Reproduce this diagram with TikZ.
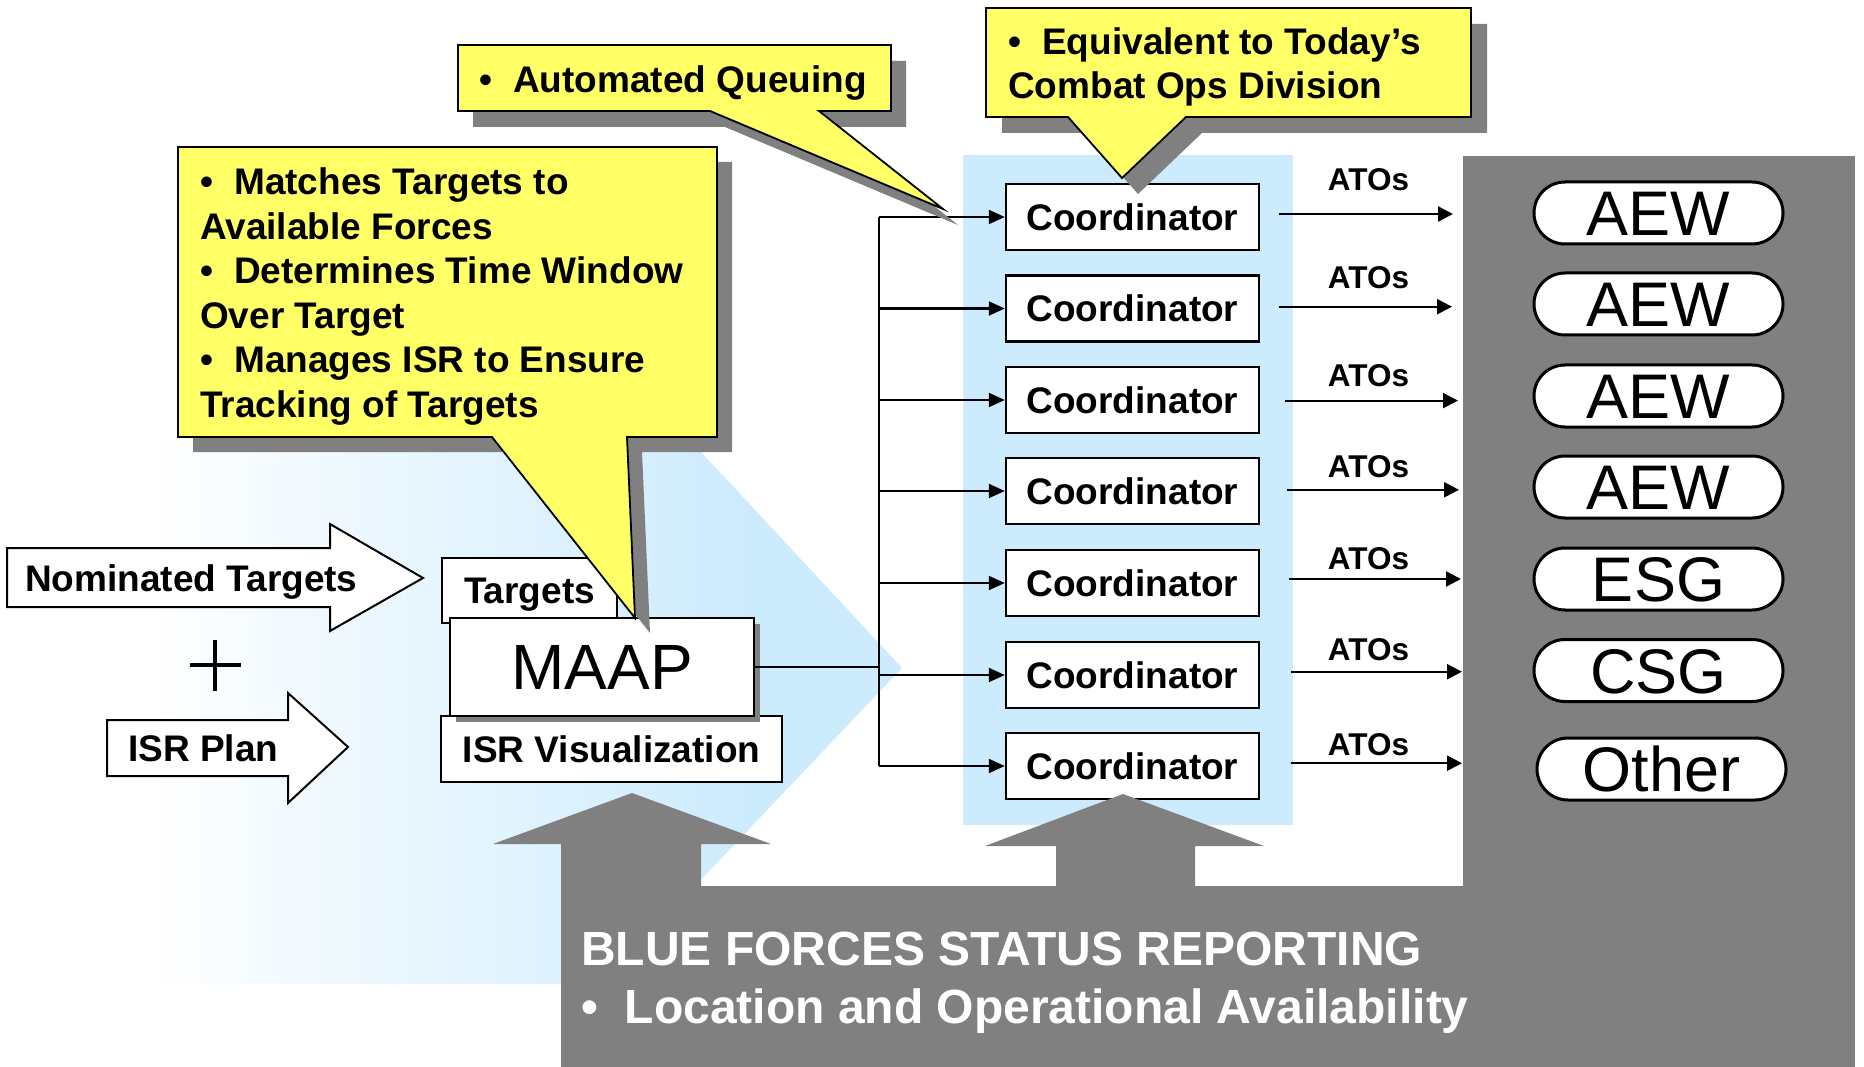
\documentclass[tikz,border=0pt]{standalone}
\usepackage{fontspec}
\setmainfont{Liberation Sans}
\usetikzlibrary{arrows.meta,shadows}
\definecolor{cyellow}{HTML}{FFFF66}
\definecolor{lblue}{HTML}{CCEBFD}
\definecolor{sgray}{HTML}{808080}
\pgfdeclarehorizontalshading{bgshade}{100bp}{color(0bp)=(white); color(33bp)=(white); color(67bp)=(lblue); color(100bp)=(lblue)}
\tikzset{
  fs/.style={font=\fontsize{37}{44.5}\selectfont\bfseries},
  box/.style={draw=black, line width=2pt, fill=white, inner sep=0pt, text height=26.5pt, text depth=0pt, fs},
  coordbox/.style={box, line width=2.5pt, minimum width=253pt, minimum height=66pt},
  pill/.style={draw=black, line width=3pt, fill=white, rounded corners=31pt, minimum width=249pt, minimum height=62pt, inner sep=0pt, font=\fontsize{63}{63}\selectfont, text height=45.1pt, text depth=0pt},
  conn/.style={line width=2.2pt, -{Triangle[length=16pt,width=14pt]}},
  busline/.style={line width=2.2pt},
  callout/.style={fill=cyellow, draw=black, line width=1.8pt, line join=miter},
  cshadow/.style={fill=sgray},
  ato/.style={font=\fontsize{31.5}{31.5}\selectfont\bfseries, inner sep=0pt, text height=22.5pt, text depth=0pt},
  bigarrow/.style={fill=white, draw=black, line width=2pt, line join=miter},
  ctext/.style={fs, inner sep=0pt, align=left},
}
\newcommand\cpathA{(458,45) -- (891,45) -- (891,111) -- (819,111) -- (943,209) -- (710,111) -- (458,111) -- cycle}
\newcommand\cpathB{(986,8) -- (1471,8) -- (1471,117) -- (1186,117) -- (1122,178) -- (1068,117) -- (986,117) -- cycle}
\newcommand\cpathC{(178,147) -- (717,147) -- (717,437) -- (627,437) -- (635,618) -- (492,437) -- (178,437) -- cycle}
\begin{document}
\begin{tikzpicture}[x=1pt,y=-1pt]
\useasboundingbox (0,0) rectangle (1864,1067);
% background gradient chevron
\shade[shading=bgshade] (0,440) -- (690,440) -- (902,668) -- (602,984) -- (0,984) -- cycle;
% coordinator panel
\fill[lblue] (963,155) rectangle (1293,825);
% right gray panel
\fill[sgray] (1463,156) rectangle (1855,1067);

% input arrows
\draw[bigarrow] (7,548) -- (330,548) -- (330,524) -- (423,578) -- (330,631) -- (330,607) -- (7,607) -- cycle;
\node[fs, anchor=base west, inner sep=0pt] (nom) at (25,591) {Nominated Targets};
\draw[bigarrow] (107,720) -- (288,720) -- (288,693) -- (348,747) -- (288,803) -- (288,776) -- (107,776) -- cycle;
\node[fs, anchor=base west, inner sep=0pt] (isrplan) at (128,761) {ISR Plan};
\draw[line width=4.5pt] (189.5,665) -- (240.5,665) (215,639.5) -- (215,690.5);

% MAAP group
\node[box, line width=1.6pt, minimum width=175pt, minimum height=65pt] (targets) at (529.5,590.5) {Targets};
\node[box, line width=1.6pt, minimum width=341pt, minimum height=66pt] (isrvis) at (611.5,749) {ISR Visualization};
\node[draw=black, line width=2.2pt, fill=white, minimum width=304pt, minimum height=98pt, inner sep=0pt,
      font=\fontsize{64}{64}\selectfont, text height=45.8pt, text depth=0pt,
      drop shadow={shadow xshift=6pt, shadow yshift=-6pt, fill=sgray, opacity=1}] (maap) at (602,667) {MAAP};

% bus
\coordinate (busT) at (879,217);
\coordinate (busB) at (879,766);
\draw[busline] (maap.east) -- (maap.east -| busT);
\draw[busline] (busT) -- (busB);

\foreach \i/\y in {1/217,2/308.5,3/400,4/491,5/583,6/675,7/766} {
  \node[coordbox] (c\i) at (1132.5,\y) {Coordinator};
  \draw[conn] (c\i.west -| busT) -- (c\i.west);
}

\foreach \i/\ys/\xs/\xe/\yl in {1/214/1279/1453/179.5, 2/306.7/1279/1452/277, 3/400.6/1285/1458/375.7, 4/489.8/1287/1459/466, 5/579/1289/1461/558.7, 6/671.7/1291/1462/649, 7/763.2/1291/1462/744.2} {
  \coordinate (s\i) at (\xs,\ys);
  \coordinate (e\i) at (\xe,\ys);
  \draw[conn, -{Triangle[length=15pt,width=15pt]}] (s\i) -- (e\i);
  \node[ato] (l\i) at (1368.5,\yl) {ATOs};
}

\foreach \i/\y/\t/\x in {1/213/AEW/1658.5, 2/304/AEW/1658.5, 3/396/AEW/1658.5, 4/487/AEW/1658.5, 5/579/ESG/1658.5, 6/670.5/CSG/1658.5, 7/769/Other/1661.5} {
  \node[pill] (p\i) at (\x,\y) {\t};
}

% gray reporting bar with up arrows
\fill[sgray] (561,1067) -- (561,844) -- (493,844) -- (632,793) -- (771,844) -- (701,844) -- (701,886)
  -- (1056,886) -- (1056,846) -- (985,846) -- (1123,794) -- (1264,846) -- (1195,846) -- (1195,886)
  -- (1463,886) -- (1463,1067) -- cycle;
\node[font=\fontsize{48}{58}\selectfont\bfseries, text=white, inner sep=0pt, align=left, anchor=north west] (blue) at (581,931.6)
  {BLUE FORCES STATUS REPORTING\\•\hspace{0.56em}Location and Operational Availability};

% callouts
\fill[cshadow, shift={(15,16)}] \cpathA;
\filldraw[callout] \cpathA;
\node[fs, anchor=base west, inner sep=0pt] (cA) at (479,93) {•\hspace{0.57em}Automated Queuing};

\fill[cshadow, shift={(16,16)}] \cpathB;
\filldraw[callout] \cpathB;
\node[ctext, anchor=north west] (cB) at (1008,27) {•\hspace{0.57em}Equivalent to Today’s\\Combat Ops Division};

\fill[cshadow, shift={(15,15)}] \cpathC;
\filldraw[callout] \cpathC;
\node[ctext, anchor=north west] (cC) at (200,167.5) {•\hspace{0.57em}Matches Targets to\\Available Forces\\•\hspace{0.57em}Determines Time Window\\Over Target\\•\hspace{0.57em}Manages ISR to Ensure\\Tracking of Targets};
\end{tikzpicture}
\end{document}
